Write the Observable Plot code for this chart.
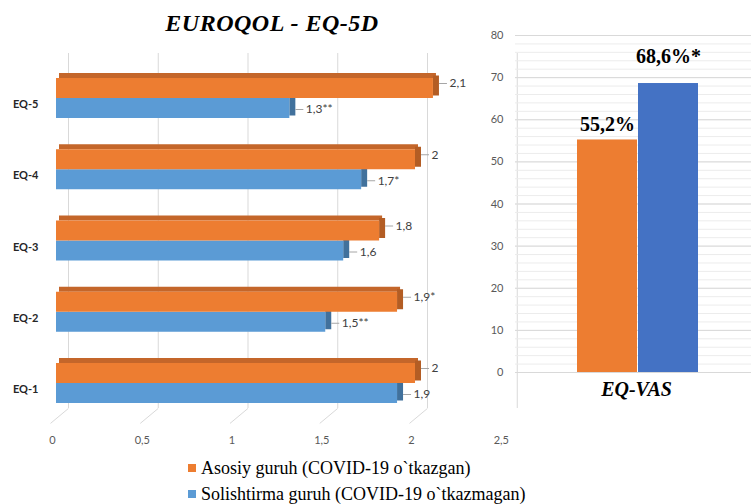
<!DOCTYPE html>
<html>
<head>
<meta charset="utf-8">
<script src="https://cdn.jsdelivr.net/npm/d3@7"></script>
<script src="https://cdn.jsdelivr.net/npm/@observablehq/plot@0.6"></script>
<style>
  body { margin: 0; background: #fff; width: 751px; height: 504px; position: relative; overflow: hidden; font-family: Lato, sans-serif; }
  .abs { position: absolute; }
  #title { left: 0; width: 544px; top: 11px; text-align: center; font-family: "Liberation Serif", "Times New Roman", serif; font-style: italic; font-weight: bold; font-size: 24px; line-height: 24px; color: #000; letter-spacing: 0.5px; }
  .leg { left: 188px; font-family: "Liberation Serif", "Times New Roman", serif; font-size: 18px; line-height: 18px; color: #000; white-space: nowrap; }
  .sw { display: inline-block; width: 8px; height: 8px; margin-right: 5px; vertical-align: 2px; }
</style>
</head>
<body>
<div id="left" class="abs" style="left:0;top:0"></div>
<div id="right" class="abs" style="left:490px;top:0"></div>
<div id="title" class="abs">EUROQOL - EQ-5D</div>
<div id="legend"></div>
<script>
// ---- data ----
const categories = ["EQ-1", "EQ-2", "EQ-3", "EQ-4", "EQ-5"];
const mainValues = [2.0, 1.9, 1.8, 2.0, 2.1];
const controlValues = [1.9, 1.5, 1.6, 1.7, 1.3];
const mainMarks = ["", "*", "", "", ""];
const controlMarks = ["", "**", "", "*", "**"];
const xTicks = [0, 0.5, 1, 1.5, 2, 2.5];
const groups = ["Asosiy guruh (COVID-19 o`tkazgan)", "Solishtirma guruh (COVID-19 o`tkazmagan)"];
const groupColors = ["#ED7D31", "#5B9BD5"];
const vasCategory = "EQ-VAS";
const vasValues = [55.2, 68.6];
const vasMarks = ["", "*"];
const vasTicks = [0, 10, 20, 30, 40, 50, 60, 70, 80];
const vasMinorTicks = d3.range(0, 81, 2);

const fmt = v => String(v).replace(".", ",");

// ---- left panel: EQ-5D (3D-style horizontal bars) ----
const rows = categories.map((c, i) => ({
  cat: c, idx: i,
  main: mainValues[i], control: controlValues[i],
  mainLabel: fmt(mainValues[i]) + mainMarks[i],
  controlLabel: fmt(controlValues[i]) + controlMarks[i]
}));
const floorFront = -0.56, floorBack = -0.35, depthX = 0.1;

const left = Plot.plot({
  width: 520, height: 460,
  marginTop: 53, marginBottom: 52, marginLeft: 56, marginRight: 15.25,
  style: { background: "transparent", fontFamily: "Lato, sans-serif" },
  x: { domain: [0, 2.5], range: [56, 504.75], label: null },
  y: { domain: [0, 4], range: [383, 98], label: null },
  marks: [
    Plot.ruleX(xTicks, { x: d => d, dx: 12, stroke: "#d9d9d9" }),
    Plot.link(xTicks.slice(0, -1), { x1: d => d, x2: d => d + depthX, y1: () => floorFront, y2: () => floorBack, dx: -6, stroke: "#d9d9d9" }),
    // control (blue)
    Plot.rect(rows, { x1: d => d.control, x2: d => d.control, y1: "idx", y2: "idx", insetLeft: 0, insetRight: -6, insetTop: -2.5, insetBottom: -17.5, fill: "#41719C" }),
    Plot.rect(rows, { x1: () => 0, x2: "control", y1: "idx", y2: "idx", insetTop: 0, insetBottom: -20, fill: groupColors[1] }),
    // main (orange)
    Plot.rect(rows, { x1: () => 0, x2: "main", y1: "idx", y2: "idx", insetTop: -25, insetBottom: 20, dx: 3, fill: "#C4662A" }),
    Plot.rect(rows, { x1: d => d.main, x2: d => d.main, y1: "idx", y2: "idx", insetLeft: 0, insetRight: -6, insetTop: -22.5, insetBottom: 2.5, fill: "#B35D24" }),
    Plot.rect(rows, { x1: () => 0, x2: "main", y1: "idx", y2: "idx", insetTop: -20, insetBottom: 0, fill: groupColors[0] }),
    // leader lines + labels
    Plot.ruleY(rows, { y: "idx", x1: "main", x2: "main", insetLeft: 6, insetRight: -14, dy: -15, stroke: "#a6a6a6" }),
    Plot.ruleY(rows, { y: "idx", x1: "control", x2: "control", insetLeft: 6, insetRight: -14, dy: 11, stroke: "#a6a6a6" }),
    Plot.text(rows, { x: "main", y: "idx", text: "mainLabel", dx: 16, dy: -15, textAnchor: "start", fontSize: 12, fill: "#404040" }),
    Plot.text(rows, { x: "control", y: "idx", text: "controlLabel", dx: 16, dy: 11, textAnchor: "start", fontSize: 12, fill: "#404040" }),
    Plot.axisX({ ticks: xTicks, tickFormat: fmt, tickSize: 0, tickPadding: 27.5, dx: -4, fontSize: 11, fill: "#595959", label: null }),
    Plot.axisY({ ticks: categories.map((c, i) => i), tickFormat: i => categories[i], tickSize: 0, tickPadding: 18, dy: 6, fontSize: 11, fontWeight: "bold", fill: "#262626", label: null })
  ]
});
document.getElementById("left").appendChild(left);

// ---- right panel: EQ-VAS ----
const vasRows = groups.map((g, i) => ({ group: g, value: vasValues[i], label: fmt(vasValues[i]) + "%" + vasMarks[i] }));

const right = Plot.plot({
  width: 261, height: 420,
  marginTop: 35, marginBottom: 48, marginLeft: 25, marginRight: 0,
  style: { background: "transparent", fontFamily: "Lato, sans-serif" },
  x: { domain: groups, range: [86, 209], paddingInner: 0.016, paddingOuter: 0, axis: null },
  y: { domain: [0, 80], axis: null },
  color: { domain: groups, range: ["#ED7D31", "#4472C4"] },
  marks: [
    Plot.ruleY(vasMinorTicks, { y: d => d, stroke: "#ececec" }),
    Plot.ruleY(vasTicks, { y: d => d, stroke: "#d9d9d9" }),
    Plot.barY(vasRows, { x: "group", y: "value", fill: "group" }),
    Plot.text(vasRows.filter((d, i) => i === 0), { x: "group", y: "value", text: "label", dy: -15, fontSize: 20, fontWeight: "bold", fontFamily: "Liberation Serif", fill: "#000" }),
    Plot.text(vasRows.filter((d, i) => i === 1), { x: "group", y: "value", text: "label", dy: -27, fontSize: 20, fontWeight: "bold", fontFamily: "Liberation Serif", fill: "#000" }),
    Plot.text([vasCategory], { text: d => d, frameAnchor: "bottom", dx: 3, dy: 23, fontSize: 20, fontStyle: "italic", fontWeight: "bold", fontFamily: "Liberation Serif", fill: "#000" }),
    Plot.axisY({ ticks: vasTicks, tickSize: 0, tickPadding: 12, fontSize: 11, fill: "#595959", label: null })
  ]
});
document.getElementById("right").appendChild(right);

// ---- legend ----
const legend = document.getElementById("legend");
groups.forEach((g, i) => {
  const row = document.createElement("div");
  row.className = "abs leg";
  row.style.top = (459 + i * 26) + "px";
  row.innerHTML = `<span class="sw" style="background:${groupColors[i]}"></span>${g}`;
  legend.appendChild(row);
});
</script>
</body>
</html>
